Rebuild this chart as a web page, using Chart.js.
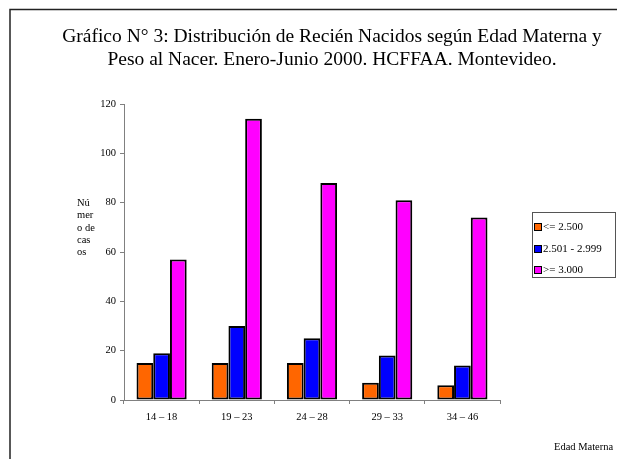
<!DOCTYPE html>
<html lang="es">
<head>
  <meta charset="UTF-8">
  <title>Gráfico N° 3</title>
  <script src="https://cdn.jsdelivr.net/npm/chart.js"></script>
  <style>
    body {
      margin: 0;
      padding: 0;
      background: #ffffff;
    }
    #chart {
      display: block;
    }
  </style>
</head>
<body>
  <canvas id="chart" width="617" height="459"></canvas>

  <script>
    // Edad materna (categorías) y casos por peso al nacer
    const edades = ['14 – 18', '19 – 23', '24 – 28', '29 – 33', '34 – 46'];
    const peso2500 = [15, 15, 15, 7, 6];
    const peso2501a2999 = [19, 30, 25, 18, 14];
    const peso3000 = [57, 114, 88, 81, 74];

    const tituloLineas = [
      'Gráfico N° 3: Distribución de Recién Nacidos según Edad Materna y',
      'Peso al Nacer. Enero-Junio 2000. HCFFAA. Montevideo.'
    ];
    const ejeYLineas = ['Nú', 'mer', 'o de', 'cas', 'os'];
    const ejeXTexto = 'Edad Materna';

    const serif = '"Liberation Serif", "Times New Roman", serif';

    // frame, title, axis captions and boxed legend
    const decoPlugin = {
      id: 'deco',
      beforeDraw(chart) {
        const ctx = chart.ctx;
        ctx.save();
        ctx.fillStyle = '#ffffff';
        ctx.fillRect(0, 0, chart.width, chart.height);
        ctx.strokeStyle = '#222222';
        ctx.lineWidth = 1.5;
        ctx.beginPath();
        ctx.moveTo(10, chart.height);
        ctx.lineTo(10, 9.5);
        ctx.lineTo(chart.width, 9.5);
        ctx.stroke();
        ctx.restore();
      },
      afterDraw(chart) {
        const ctx = chart.ctx;
        ctx.save();
        ctx.fillStyle = '#000000';

        // title
        ctx.font = '19.5px ' + serif;
        ctx.textAlign = 'center';
        ctx.textBaseline = 'middle';
        ctx.fillText(tituloLineas[0], 332, 37);
        ctx.fillText(tituloLineas[1], 332, 60);

        // y caption
        ctx.font = '10.5px ' + serif;
        ctx.textAlign = 'left';
        ejeYLineas.forEach((t, i) => ctx.fillText(t, 77, 203 + i * 12.4));

        // x caption
        ctx.font = '10.5px ' + serif;
        ctx.fillText(ejeXTexto, 554, 447);

        // legend
        ctx.strokeStyle = '#555555';
        ctx.lineWidth = 1;
        ctx.strokeRect(532.5, 212.5, 83, 65);
        ctx.font = '11px ' + serif;
        const ys = [227, 249, 270];
        chart.data.datasets.forEach((ds, i) => {
          ctx.fillStyle = ds.backgroundColor;
          ctx.fillRect(534.5, ys[i] - 3.5, 7, 7);
          ctx.strokeStyle = '#000000';
          ctx.strokeRect(534.5, ys[i] - 3.5, 7, 7);
          ctx.fillStyle = '#000000';
          ctx.fillText(ds.label, 543, ys[i] + 0.5);
        });
        ctx.restore();
      }
    };

    const ctx = document.getElementById('chart').getContext('2d');
    new Chart(ctx, {
      type: 'bar',
      data: {
        labels: edades,
        datasets: [
          { label: '<= 2.500', data: peso2500, backgroundColor: '#FF6600' },
          { label: '2.501 - 2.999', data: peso2501a2999, backgroundColor: '#0000FF' },
          { label: '>= 3.000', data: peso3000, backgroundColor: '#FF00FF' }
        ].map(d => Object.assign(d, {
          borderColor: '#000000',
          borderWidth: 2,
          borderSkipped: false,
          categoryPercentage: 0.667,
          barPercentage: 1.0
        }))
      },
      options: {
        responsive: false,
        animation: false,
        devicePixelRatio: 1,
        layout: { padding: { top: 104, right: 117, bottom: 0, left: 0 } },
        plugins: {
          legend: { display: false },
          title: { display: false },
          tooltip: { enabled: false }
        },
        scales: {
          x: {
            afterFit(scale) { scale.height = 59; },
            grid: {
              offset: true,
              drawOnChartArea: false,
              drawTicks: true,
              tickLength: 4,
              color: '#808080'
            },
            border: { display: true, color: '#808080', width: 1 },
            ticks: {
              color: '#000000',
              padding: 7,
              maxRotation: 0,
              font: { family: serif, size: 10.5 }
            }
          },
          y: {
            min: 0,
            max: 120,
            afterFit(scale) { scale.width = 124; },
            grid: {
              drawOnChartArea: false,
              drawTicks: true,
              tickLength: 4,
              color: '#808080'
            },
            border: { display: true, color: '#808080', width: 1 },
            ticks: {
              stepSize: 20,
              color: '#000000',
              padding: 4,
              font: { family: serif, size: 10.5 }
            }
          }
        }
      },
      plugins: [decoPlugin]
    });
  </script>
</body>
</html>
